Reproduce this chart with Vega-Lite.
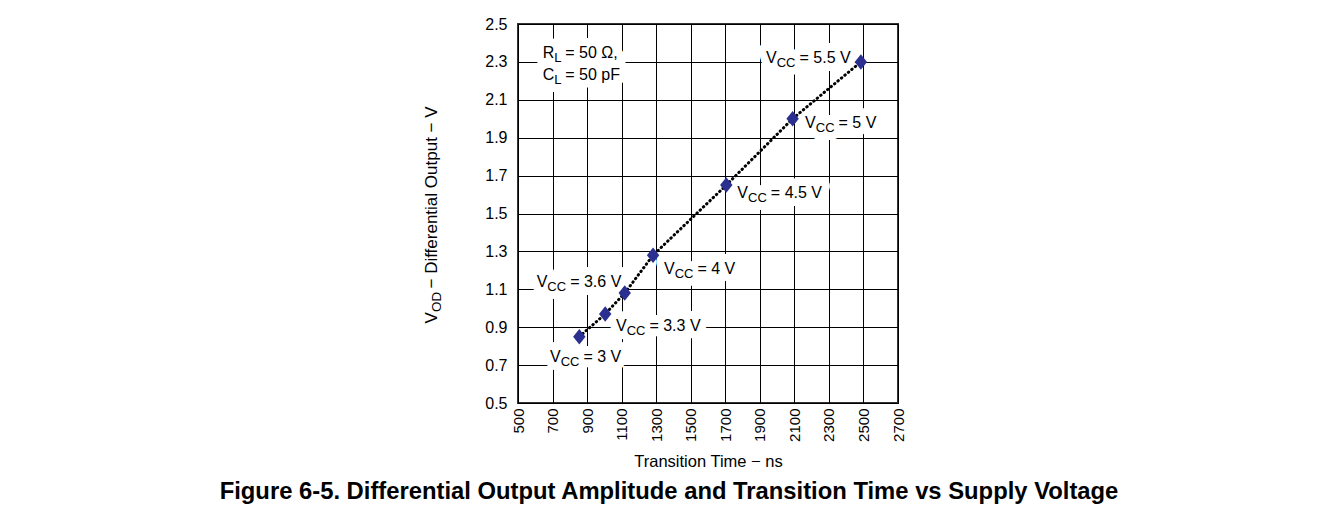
{
  "$schema": "https://vega.github.io/schema/vega-lite/v6.json",
  "width": 380,
  "height": 379,
  "autosize": {"type": "none"},
  "padding": {"left": 518, "top": 24, "right": 440, "bottom": 110},
  "background": "white",
  "title": {
    "text": "Figure 6-5. Differential Output Amplitude and Transition Time vs Supply Voltage",
    "orient": "bottom",
    "anchor": "middle",
    "dx": -39,
    "offset": 10,
    "font": "Liberation Sans",
    "fontSize": 23.8,
    "fontWeight": "bold",
    "color": "black"
  },
  "config": {
    "view": {"stroke": "#333333", "strokeWidth": 2},
    "axis": {
      "labelFont": "Liberation Sans",
      "labelFontSize": 15,
      "labelColor": "black",
      "titleFont": "Liberation Sans",
      "titleFontSize": 16.5,
      "titleFontWeight": "normal",
      "titleColor": "black",
      "gridColor": "black",
      "gridOpacity": 1,
      "gridWidth": 1,
      "ticks": false,
      "domain": false
    },
    "text": {"font": "Liberation Sans", "color": "black"}
  },
  "datasets": {
    "pts": [
      {"t": 855, "v": 0.85},
      {"t": 1005, "v": 0.97},
      {"t": 1118, "v": 1.08},
      {"t": 1282, "v": 1.28},
      {"t": 1706, "v": 1.65},
      {"t": 2090, "v": 2.0},
      {"t": 2485, "v": 2.3}
    ],
    "vcc": [
      {"x": 685, "y": 0.744, "rest": "= 3 V"},
      {"x": 1067, "y": 0.906, "rest": "= 3.3 V"},
      {"x": 608, "y": 1.14, "rest": "= 3.6 V"},
      {"x": 1345, "y": 1.206, "rest": "= 4 V"},
      {"x": 1770, "y": 1.607, "rest": "= 4.5 V"},
      {"x": 2162, "y": 1.98, "rest": "= 5 V"},
      {"x": 1936, "y": 2.32, "rest": "= 5.5 V"}
    ],
    "rc": [
      {"x": 643, "y": 2.345, "sym": "R", "rest": "= 50 Ω,"},
      {"x": 643, "y": 2.231, "sym": "C", "rest": "= 50 pF"}
    ],
    "ytitle": [{"x": 500, "y": 1.5}]
  },
  "encoding": {
    "x": {
      "field": "x", "type": "quantitative",
      "scale": {"domain": [500, 2700], "nice": false, "zero": false},
      "axis": {
        "values": [500, 700, 900, 1100, 1300, 1500, 1700, 1900, 2100, 2300, 2500, 2700],
        "labelAngle": 270,
        "labelAlign": "right",
        "labelBaseline": "middle",
        "labelPadding": 5,
        "format": "d",
        "title": "Transition Time − ns",
        "titlePadding": 12
      }
    },
    "y": {
      "field": "y", "type": "quantitative",
      "scale": {"domain": [0.5, 2.5], "nice": false, "zero": false},
      "axis": {
        "values": [0.5, 0.7, 0.9, 1.1, 1.3, 1.5, 1.7, 1.9, 2.1, 2.3, 2.5],
        "format": ".1f",
        "labelFontSize": 16,
        "labelPadding": 11,
        "title": null
      }
    }
  },
  "layer": [
    {"data": {"name": "vcc"}, "mark": {"type": "text", "text": "V", "align": "left", "baseline": "middle", "fontSize": 16, "stroke": "white", "strokeWidth": 16, "strokeJoin": "round", "fill": "white"}},
    {"data": {"name": "vcc"}, "mark": {"type": "text", "text": "CC", "align": "left", "baseline": "middle", "fontSize": 13, "dx": 10.7, "dy": 5, "stroke": "white", "strokeWidth": 16, "strokeJoin": "round", "fill": "white"}},
    {"data": {"name": "vcc"}, "mark": {"type": "text", "align": "left", "baseline": "middle", "fontSize": 16, "dx": 33.5, "stroke": "white", "strokeWidth": 16, "strokeJoin": "round", "fill": "white"}, "encoding": {"text": {"field": "rest"}}},
    {"data": {"name": "rc"}, "mark": {"type": "text", "align": "left", "baseline": "middle", "fontSize": 16, "stroke": "white", "strokeWidth": 16, "strokeJoin": "round", "fill": "white"}, "encoding": {"text": {"field": "sym"}}},
    {"data": {"name": "rc"}, "mark": {"type": "text", "text": "L", "align": "left", "baseline": "middle", "fontSize": 13, "dx": 11.6, "dy": 5, "stroke": "white", "strokeWidth": 16, "strokeJoin": "round", "fill": "white"}},
    {"data": {"name": "rc"}, "mark": {"type": "text", "align": "left", "baseline": "middle", "fontSize": 16, "dx": 22.5, "stroke": "white", "strokeWidth": 16, "strokeJoin": "round", "fill": "white"}, "encoding": {"text": {"field": "rest"}}},
    {
      "data": {"name": "pts"},
      "mark": {"type": "line", "color": "black", "strokeWidth": 3, "strokeDash": [0.5, 4], "strokeCap": "round"},
      "encoding": {"x": {"field": "t", "type": "quantitative"}, "y": {"field": "v", "type": "quantitative"}, "order": {"field": "t"}}
    },
    {
      "data": {"name": "pts"},
      "mark": {"type": "point", "shape": "M0,-1L0.8,0L0,1L-0.8,0Z", "size": 240, "filled": true, "color": "#2b3090", "opacity": 1},
      "encoding": {"x": {"field": "t", "type": "quantitative"}, "y": {"field": "v", "type": "quantitative"}}
    },
    {"data": {"name": "vcc"}, "mark": {"type": "text", "text": "V", "align": "left", "baseline": "middle", "fontSize": 16}},
    {"data": {"name": "vcc"}, "mark": {"type": "text", "text": "CC", "align": "left", "baseline": "middle", "fontSize": 13, "dx": 10.7, "dy": 5}},
    {"data": {"name": "vcc"}, "mark": {"type": "text", "align": "left", "baseline": "middle", "fontSize": 16, "dx": 33.5}, "encoding": {"text": {"field": "rest"}}},
    {"data": {"name": "rc"}, "mark": {"type": "text", "align": "left", "baseline": "middle", "fontSize": 16}, "encoding": {"text": {"field": "sym"}}},
    {"data": {"name": "rc"}, "mark": {"type": "text", "text": "L", "align": "left", "baseline": "middle", "fontSize": 13, "dx": 11.6, "dy": 5}},
    {"data": {"name": "rc"}, "mark": {"type": "text", "align": "left", "baseline": "middle", "fontSize": 16, "dx": 22.5}, "encoding": {"text": {"field": "rest"}}},
    {"data": {"name": "ytitle"}, "mark": {"type": "text", "text": "V", "angle": 270, "align": "left", "baseline": "middle", "fontSize": 17, "dx": -110, "dy": -86}},
    {"data": {"name": "ytitle"}, "mark": {"type": "text", "text": "OD", "angle": 270, "align": "left", "baseline": "middle", "fontSize": 13.5, "dx": -98.5, "dy": -81}},
    {"data": {"name": "ytitle"}, "mark": {"type": "text", "text": "− Differential Output − V", "angle": 270, "align": "left", "baseline": "middle", "fontSize": 17, "dx": -75, "dy": -86}}
  ]
}
